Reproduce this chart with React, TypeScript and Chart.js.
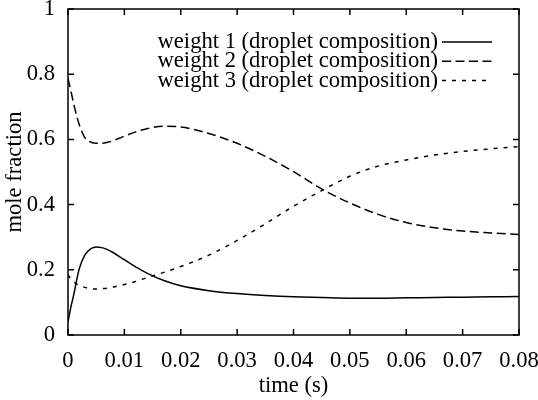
import React, { useEffect, useRef } from "react";
import { Chart, registerables } from "chart.js";

Chart.register(...registerables);

const times = [0, 0.0005, 0.001, 0.0015, 0.002, 0.003, 0.004, 0.005, 0.006, 0.007, 0.008, 0.01, 0.012, 0.014, 0.017, 0.02, 0.025, 0.03, 0.035, 0.04, 0.045, 0.05, 0.055, 0.06, 0.065, 0.07, 0.075, 0.08];
const weight1 = [0.04, 0.085, 0.122, 0.165, 0.203, 0.246, 0.264, 0.27, 0.268, 0.262, 0.253, 0.231, 0.209, 0.19, 0.167, 0.151, 0.136, 0.127, 0.121, 0.117, 0.115, 0.113, 0.113, 0.114, 0.115, 0.116, 0.117, 0.118];
const weight2 = [0.787, 0.75, 0.71, 0.675, 0.645, 0.605, 0.592, 0.588, 0.588, 0.591, 0.596, 0.61, 0.623, 0.633, 0.64, 0.638, 0.618, 0.588, 0.548, 0.501, 0.448, 0.405, 0.37, 0.345, 0.329, 0.319, 0.313, 0.308];
const weight3 = [0.185, 0.172, 0.163, 0.157, 0.152, 0.146, 0.142, 0.141, 0.142, 0.144, 0.147, 0.155, 0.164, 0.176, 0.192, 0.21, 0.245, 0.29, 0.341, 0.395, 0.443, 0.487, 0.518, 0.537, 0.552, 0.563, 0.571, 0.578];
const seriesLabels = ["weight 1 (droplet composition)", "weight 2 (droplet composition)", "weight 3 (droplet composition)"];
const xTicks = [0, 0.01, 0.02, 0.03, 0.04, 0.05, 0.06, 0.07, 0.08];
const xTickLabels = ["0", "0.01", "0.02", "0.03", "0.04", "0.05", "0.06", "0.07", "0.08"];
const yTicks = [0, 0.2, 0.4, 0.6, 0.8, 1];
const yTickLabels = ["0", "0.2", "0.4", "0.6", "0.8", "1"];

const FONT = "'Liberation Serif', 'Times New Roman', serif";
const FS = 22.6;
const dashes = [[], [9, 4.5], [4, 6]];

const framePlugin = {
  id: "frameTicksLegend",
  afterDraw(chart: any) {
    const { ctx, chartArea } = chart;
    const { left, right, top, bottom } = chartArea;
    const xs = chart.scales.x;
    const ys = chart.scales.y;
    ctx.save();
    ctx.strokeStyle = "#000";
    ctx.lineWidth = 1.5;
    ctx.setLineDash([]);
    ctx.strokeRect(left, top, right - left, bottom - top);
    const tl = 6;
    ctx.beginPath();
    xTicks.forEach((v) => {
      const px = xs.getPixelForValue(v);
      ctx.moveTo(px, bottom);
      ctx.lineTo(px, bottom - tl);
      ctx.moveTo(px, top);
      ctx.lineTo(px, top + tl);
    });
    yTicks.forEach((v) => {
      const py = ys.getPixelForValue(v);
      ctx.moveTo(left, py);
      ctx.lineTo(left + tl, py);
      ctx.moveTo(right, py);
      ctx.lineTo(right - tl, py);
    });
    ctx.stroke();

    // legend
    ctx.font = `${FS}px ${FONT}`;
    ctx.fillStyle = "#000";
    ctx.textAlign = "right";
    ctx.textBaseline = "middle";
    const textRight = 438;
    const rowY0 = 42;
    const rowH = 19.3;
    seriesLabels.forEach((lab, i) => {
      const y = rowY0 + i * rowH;
      ctx.fillText(lab, textRight, y);
      ctx.beginPath();
      ctx.setLineDash(dashes[i]);
      ctx.lineWidth = 1.5;
      ctx.moveTo(textRight + 4, y);
      ctx.lineTo(textRight + 54, y);
      ctx.stroke();
    });
    ctx.restore();
  },
};

export default function App() {
  const ref = useRef<HTMLCanvasElement | null>(null);
  useEffect(() => {
    const mk = (vals: number[]) => times.map((t, i) => ({ x: t, y: vals[i] }));
    const chart = new Chart(ref.current as HTMLCanvasElement, {
      type: "line",
      data: {
        datasets: [weight1, weight2, weight3].map((vals, i) => ({
          label: seriesLabels[i],
          data: mk(vals),
          borderColor: "#000",
          borderWidth: 1.5,
          borderDash: dashes[i],
          pointRadius: 0,
          fill: false,
          cubicInterpolationMode: "monotone" as const,
        })),
      },
      options: {
        animation: false,
        responsive: false,
        maintainAspectRatio: false,
        layout: { padding: { left: 0, top: 9, right: 19, bottom: 0 } },
        plugins: { legend: { display: false }, tooltip: { enabled: false } },
        scales: {
          x: {
            type: "linear",
            min: 0,
            max: 0.08,
            afterFit: (s: any) => { s.height = 65; s.paddingLeft = 0; s.paddingRight = 0; },
            afterBuildTicks: (s: any) => { s.ticks = xTicks.map((v) => ({ value: v })); },
            grid: { display: false },
            border: { display: false },
            ticks: {
              color: "#000",
              font: { family: FONT, size: FS },
              padding: 5,
              maxRotation: 0,
              autoSkip: false,
              callback: (_v: any, i: number) => xTickLabels[i],
            },
            title: {
              display: true,
              text: "time (s)",
              color: "#000",
              font: { family: FONT, size: FS },
              padding: { top: 0, bottom: 0 },
            },
          },
          y: {
            type: "linear",
            min: 0,
            max: 1,
            afterFit: (s: any) => { s.width = 68; s.paddingTop = 0; s.paddingBottom = 0; },
            afterBuildTicks: (s: any) => { s.ticks = yTicks.map((v) => ({ value: v })); },
            grid: { display: false },
            border: { display: false },
            ticks: {
              color: "#000",
              font: { family: FONT, size: FS },
              padding: 5,
              autoSkip: false,
              callback: (_v: any, i: number) => yTickLabels[i],
            },
            title: {
              display: true,
              text: "mole fraction",
              color: "#000",
              font: { family: FONT, size: FS },
              padding: { top: 2, bottom: 0 },
            },
          },
        },
      },
      plugins: [framePlugin],
    });
    return () => chart.destroy();
  }, []);
  return (
    <div style={{ position: "absolute", left: 0, top: 0, width: 538, height: 400, background: "#fff" }}>
      <canvas ref={ref} width={538} height={400} style={{ width: 538, height: 400 }} />
    </div>
  );
}
